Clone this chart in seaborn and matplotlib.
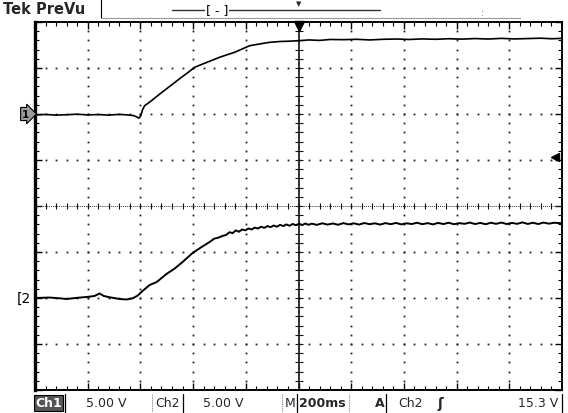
import matplotlib
matplotlib.use("Agg")
import matplotlib.pyplot as plt
import numpy as np
import pandas as pd
import seaborn as sns

# ---- acquisition settings -------------------------------------------------
ms_per_div = 200
volts_per_div = 5.0
ch1_ground_div = 2      # channel 1 reference level (divisions above centre)
ch2_ground_div = -2     # channel 2 reference level (divisions below centre)
trigger_level_v = 15.3

# ---- channel 1 trace (time in ms, voltage in V) ----------------------------
ch1_time = [-1000, -960, -920, -880, -840, -800, -760, -720, -680, -650,
            -625, -612, -605, -599, -592, -584, -560, -527, -489, -451,
            -420, -394, -349, -300, -270, -243, -215, -186, -150, -110,
            -70, -30, 4, 40, 80, 120, 170, 220, 270, 320, 370, 420, 470,
            520, 570, 620, 670, 720, 770, 820, 870, 920, 960, 1000]
ch1_volts = [-0.10, -0.05, -0.12, -0.08, -0.02, -0.10, -0.06, -0.12, -0.04, -0.10,
             -0.18, -0.35, -0.45, -0.20, 0.45, 0.90, 1.40, 2.16, 3.00, 3.84,
             4.50, 5.08, 5.60, 6.16, 6.45, 6.70, 7.05, 7.42, 7.60, 7.79,
             7.88, 7.92, 7.97, 8.05, 8.00, 8.10, 8.08, 8.12, 8.05, 8.12, 8.15, 8.10, 8.16,
             8.12, 8.18, 8.14, 8.20, 8.15, 8.22, 8.16, 8.20, 8.24, 8.18, 8.22]

# ---- channel 2 trace (time in ms, voltage in V) ----------------------------
ch2_time = [-1000, -944, -900, -880, -840, -804, -774, -755, -739, -717,
            -679, -652, -629, -610, -592, -565, -538, -501, -470, -440,
            -402, -370, -337, -320, -305, -288, -275, -262, -250, -238,
            -226, -214, -202, -190, -178, -166, -154, -142, -130, -118,
            -106, -94, -82, -70, -58, -46, -34, -22, -10, 2, 14, 26, 38,
            50, 70, 90, 110, 130, 150, 170, 190, 210, 230, 250, 270, 290,
            310, 330, 350, 370, 390, 410, 430, 450, 470, 490, 510, 530,
            550, 570, 590, 610, 630, 650, 670, 690, 710, 730, 750, 770,
            790, 810, 830, 850, 870, 890, 910, 930, 950, 970, 1000]
ch2_volts = [0.00, 0.05, -0.05, -0.11, 0.02, 0.11, 0.22, 0.49, 0.22, 0.08,
             -0.11, -0.16, -0.03, 0.27, 0.76, 1.41, 1.74, 2.61, 3.20, 3.91,
             4.89, 5.50, 6.09, 6.45, 6.55, 6.75, 6.85, 7.15, 7.05, 7.35,
             7.20, 7.45, 7.35, 7.55, 7.45, 7.65, 7.55, 7.75, 7.62, 7.82,
             7.70, 7.88, 7.75, 7.95, 7.82, 8.00, 7.85, 8.05, 7.90, 8.08,
             7.92, 8.10, 7.95, 8.08, 7.95, 8.12, 7.98, 8.10, 7.96, 8.14,
             8.00, 8.12, 7.98, 8.15, 8.02, 8.12, 7.98, 8.14, 8.02, 8.16,
             8.00, 8.12, 8.04, 8.18, 8.02, 8.14, 8.00, 8.16, 8.04, 8.18,
             8.02, 8.14, 8.06, 8.20, 8.04, 8.16, 8.02, 8.18, 8.06, 8.20,
             8.04, 8.16, 8.06, 8.22, 8.05, 8.18, 8.04, 8.20, 8.08, 8.18,
             8.12]

# ---- figure -----------------------------------------------------------------
sns.set_style("white")
plt.rcParams["font.family"] = ["DejaVu Sans"]

W, H = 568, 414
fig = plt.figure(figsize=(W / 100, H / 100), dpi=100)
fig.patch.set_facecolor("white")

left_px, right_px, top_px, bottom_px = 35, 562, 23, 391
ax = fig.add_axes([left_px / W, 1 - bottom_px / H,
                   (right_px - left_px) / W, (bottom_px - top_px) / H])

t_span = 5 * ms_per_div
ax.set_xlim(-t_span, t_span)
ax.set_ylim(-4, 4)

traces = pd.concat([
    pd.DataFrame({"time": ch1_time, "volts": ch1_volts, "channel": "Ch1",
                  "div": np.array(ch1_volts) / volts_per_div + ch1_ground_div}),
    pd.DataFrame({"time": ch2_time, "volts": ch2_volts, "channel": "Ch2",
                  "div": np.array(ch2_volts) / volts_per_div + ch2_ground_div}),
])

# graticule: dotted division lines
minor_x = np.arange(-t_span, t_span + 1, ms_per_div / 5)
minor_y = np.arange(-4, 4.001, 0.2)
for gx in np.arange(-4, 5) * ms_per_div:
    if gx == 0:
        continue
    ax.plot(np.full_like(minor_y, gx), minor_y, ls="none", marker="s",
            ms=1.3, color="#222222", mew=0, zorder=1)
for gy in range(-3, 4):
    if gy == 0:
        continue
    ax.plot(minor_x, np.full_like(minor_x, gy), ls="none", marker="s",
            ms=1.3, color="#222222", mew=0, zorder=1)

# centre cross with minor tick marks
ax.axhline(0, color="#333333", lw=0.7, ls=(0, (1, 1)), zorder=1)
ax.axvline(0, color="#111111", lw=1.2, zorder=1)
ax.plot(minor_x, np.zeros_like(minor_x), ls="none", marker="|", ms=5,
        mew=0.8, color="#111111", zorder=1)
ax.plot(np.zeros_like(minor_y), minor_y, ls="none", marker="_", ms=6,
        mew=0.8, color="#111111", zorder=1)

# traces
for name, grp in traces.groupby("channel"):
    sns.lineplot(data=grp, x="time", y="div", sort=False, estimator=None,
                 color="black", lw=1.2 if name == "Ch1" else 1.4, ax=ax,
                 zorder=3)

# frame with inward ticks
ax.set_xticks(np.arange(-4, 5) * ms_per_div)
ax.set_xticks(minor_x, minor=True)
ax.set_yticks(np.arange(-4, 5))
ax.set_yticks(minor_y, minor=True)
ax.tick_params(which="both", direction="in", top=True, right=True,
               bottom=True, left=True, labelbottom=False, labelleft=False,
               color="black")
ax.tick_params(which="major", length=5, width=1)
ax.tick_params(which="minor", length=3, width=0.8)
ax.set_xlabel("")
ax.set_ylabel("")
for side, sp in ax.spines.items():
    sp.set_visible(True)
    sp.set_color("black")
    sp.set_linewidth(2.4 if side == "left" else 1.4)

# trigger position and trigger level markers
ax.plot([0], [3.92], marker="v", ms=7, color="black", clip_on=False, zorder=5)
trig_div = trigger_level_v / volts_per_div + ch2_ground_div
ax.plot([t_span * 0.972], [trig_div], marker="<", ms=6,
        color="black", clip_on=False, zorder=5)

# channel reference markers
ax.annotate("1", xy=(-t_span, ch1_ground_div), xytext=(-4, 0),
            textcoords="offset points", ha="right", va="center",
            fontsize=7.5, fontweight="bold", color="black",
            bbox=dict(boxstyle="rarrow,pad=0.15", fc="#9a9a9a", ec="black", lw=0.8),
            annotation_clip=False)
ax.annotate("[2", xy=(-t_span, ch2_ground_div), xytext=(-3, 0),
            textcoords="offset points", ha="right", va="center",
            fontsize=10, color="black", annotation_clip=False)


def px(x, y):
    """Figure-pixel position (origin top-left) to figure fraction."""
    return x / W, 1 - y / H


def hline(x0, x1, y, **kw):
    fig.add_artist(plt.Line2D([x0 / W, x1 / W], [1 - y / H, 1 - y / H], **kw))


def vline(x, y0, y1, **kw):
    fig.add_artist(plt.Line2D([x / W, x / W], [1 - y0 / H, 1 - y1 / H], **kw))


# header bar
fig.text(*px(3, 10), "Tek PreVu", fontsize=10.5, fontweight="heavy",
         ha="left", va="center")
vline(101, 0, 19, color="black", lw=0.8)
hline(101, 520, 19, color="#9a9a9a", lw=0.8)
hline(172, 380, 11, color="#333333", lw=1.0)
fig.text(*px(217, 11), "[ - ]", fontsize=9, ha="center", va="center",
         color="black", bbox=dict(fc="white", ec="none", pad=0.5))
fig.text(*px(299, 4), "\u25BC", fontsize=5, ha="center", va="center")
fig.text(*px(482, 13), ":", fontsize=6, ha="center", va="center", color="#555555")

# status line
sy = 404
fig.text(*px(35, sy), "Ch1", fontsize=9, fontweight="bold", color="white",
         ha="left", va="center",
         bbox=dict(boxstyle="square,pad=0.12", fc="#555555", ec="black", lw=0.8))
vline(65, 395, 413, color="black", lw=0.9)
fig.text(*px(86, sy), "5.00 V", fontsize=9, ha="left", va="center")
vline(152, 395, 413, color="#777777", lw=0.7, ls=(0, (1, 1)))
fig.text(*px(155, sy), "Ch2", fontsize=9, ha="left", va="center")
vline(183, 395, 413, color="black", lw=0.9)
fig.text(*px(203, sy), "5.00 V", fontsize=9, ha="left", va="center")
vline(282, 395, 413, color="#777777", lw=0.7, ls=(0, (1, 1)))
fig.text(*px(285, sy), "M", fontsize=9, ha="left", va="center")
vline(297, 395, 413, color="black", lw=0.9)
fig.text(*px(299, sy), "200ms", fontsize=9, fontweight="bold", ha="left", va="center")
vline(349, 395, 413, color="#777777", lw=0.7, ls=(0, (1, 1)))
fig.text(*px(375, sy), "A", fontsize=9, fontweight="bold", ha="left", va="center")
vline(386, 395, 413, color="black", lw=0.9)
fig.text(*px(398, sy), "Ch2", fontsize=9, ha="left", va="center")
fig.text(*px(440, sy), "\u0283", fontsize=10, fontweight="bold", ha="center", va="center")
fig.text(*px(558, sy), "15.3 V", fontsize=9, ha="right", va="center")
vline(562, 395, 413, color="black", lw=0.9)

fig.savefig("out.png", dpi=100, facecolor="white")
